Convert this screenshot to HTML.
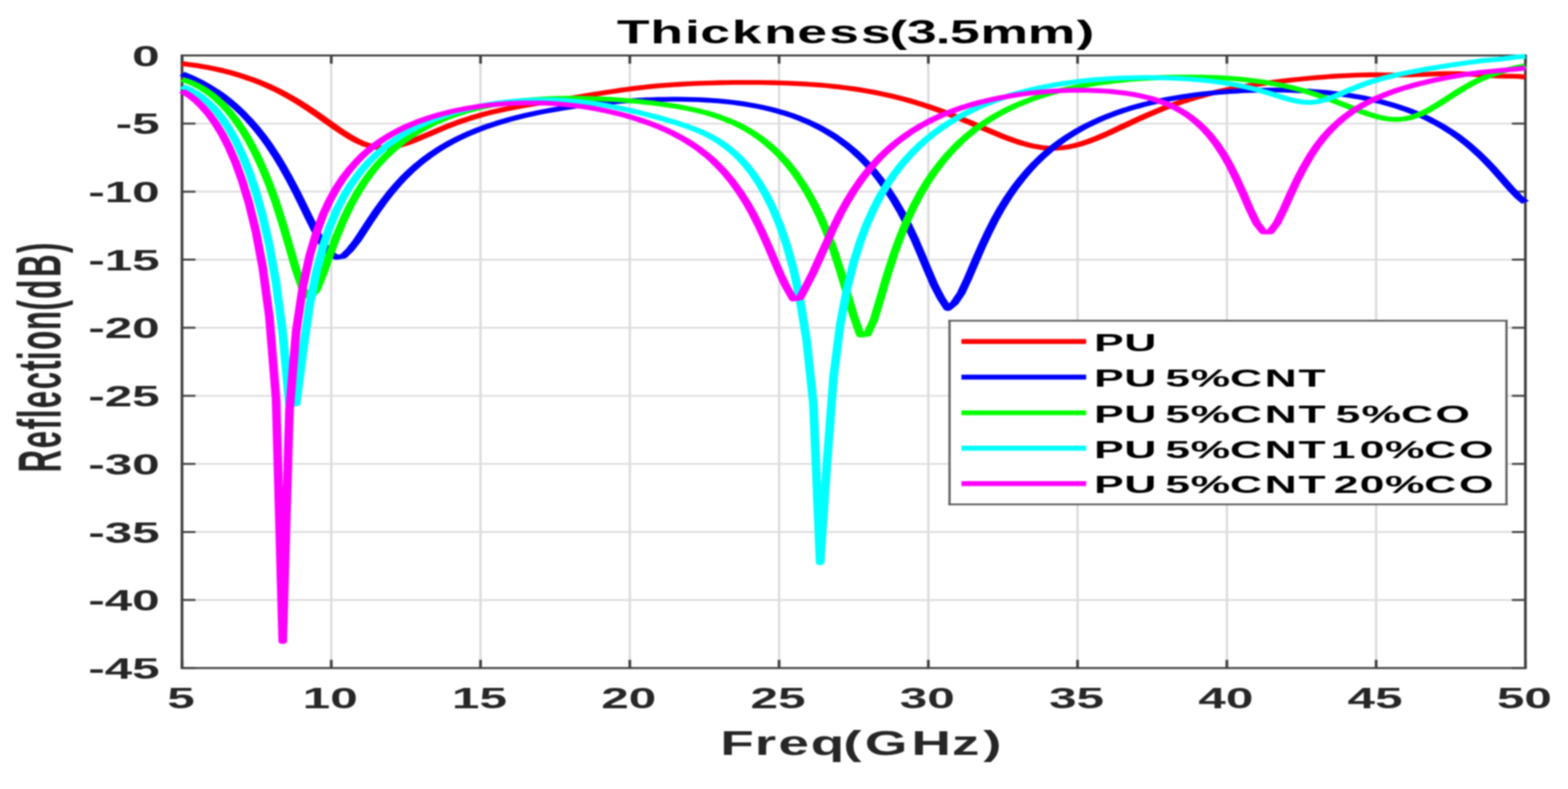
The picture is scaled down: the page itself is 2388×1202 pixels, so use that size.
<!DOCTYPE html>
<html lang="en">
<head>
<meta charset="utf-8">
<title>Thickness(3.5mm) - Reflection vs Freq</title>
<style>
html,body{margin:0;padding:0;background:#fff;overflow:hidden}
svg{display:block}
text{font-family:"Liberation Sans",sans-serif;font-weight:bold}
</style>
</head>
<body>
<svg width="2388" height="1202" viewBox="0 0 2388 1202">
<defs><filter id="soft" x="0" y="0" width="100%" height="100%" filterUnits="userSpaceOnUse" color-interpolation-filters="sRGB"><feGaussianBlur stdDeviation="0.8"/></filter></defs>
<rect width="2388" height="1202" fill="#fff"/>
<g filter="url(#soft)">
<rect width="2388" height="1202" fill="#fff"/>
<g stroke="#dcdcdc" fill="none">
<line x1="504.5" y1="84.5" x2="504.5" y2="1017.8" stroke-width="3.6"/>
<line x1="731.8" y1="84.5" x2="731.8" y2="1017.8" stroke-width="3.6"/>
<line x1="959.2" y1="84.5" x2="959.2" y2="1017.8" stroke-width="3.6"/>
<line x1="1186.5" y1="84.5" x2="1186.5" y2="1017.8" stroke-width="3.6"/>
<line x1="1413.8" y1="84.5" x2="1413.8" y2="1017.8" stroke-width="3.6"/>
<line x1="1641.1" y1="84.5" x2="1641.1" y2="1017.8" stroke-width="3.6"/>
<line x1="1868.5" y1="84.5" x2="1868.5" y2="1017.8" stroke-width="3.6"/>
<line x1="2095.8" y1="84.5" x2="2095.8" y2="1017.8" stroke-width="3.6"/>
<line x1="277.2" y1="914.1" x2="2323.1" y2="914.1" stroke-width="2.6"/>
<line x1="277.2" y1="810.4" x2="2323.1" y2="810.4" stroke-width="2.6"/>
<line x1="277.2" y1="706.7" x2="2323.1" y2="706.7" stroke-width="2.6"/>
<line x1="277.2" y1="603" x2="2323.1" y2="603" stroke-width="2.6"/>
<line x1="277.2" y1="499.3" x2="2323.1" y2="499.3" stroke-width="2.6"/>
<line x1="277.2" y1="395.6" x2="2323.1" y2="395.6" stroke-width="2.6"/>
<line x1="277.2" y1="291.9" x2="2323.1" y2="291.9" stroke-width="2.6"/>
<line x1="277.2" y1="188.2" x2="2323.1" y2="188.2" stroke-width="2.6"/>
</g>
<g stroke="#404040" fill="none">
<path d="M275.1 84.5H2325.2M275.1 1017.8H2325.2" stroke-width="3.0"/>
<path d="M277.2 84.5V1017.8M2323.1 84.5V1017.8" stroke-width="4.2"/>
<path d="M277.2 84.5v12.5M277.2 1017.8v-12.5M504.5 84.5v12.5M504.5 1017.8v-12.5M731.8 84.5v12.5M731.8 1017.8v-12.5M959.2 84.5v12.5M959.2 1017.8v-12.5M1186.5 84.5v12.5M1186.5 1017.8v-12.5M1413.8 84.5v12.5M1413.8 1017.8v-12.5M1641.1 84.5v12.5M1641.1 1017.8v-12.5M1868.5 84.5v12.5M1868.5 1017.8v-12.5M2095.8 84.5v12.5M2095.8 1017.8v-12.5M2323.1 84.5v12.5M2323.1 1017.8v-12.5" stroke-width="4.2"/>
<path d="M277.2 1017.8h20.5M2323.1 1017.8h-20.5M277.2 914.1h20.5M2323.1 914.1h-20.5M277.2 810.4h20.5M2323.1 810.4h-20.5M277.2 706.7h20.5M2323.1 706.7h-20.5M277.2 603h20.5M2323.1 603h-20.5M277.2 499.3h20.5M2323.1 499.3h-20.5M277.2 395.6h20.5M2323.1 395.6h-20.5M277.2 291.9h20.5M2323.1 291.9h-20.5M277.2 188.2h20.5M2323.1 188.2h-20.5M277.2 84.5h20.5M2323.1 84.5h-20.5" stroke-width="3.0"/>
</g>
<g transform="scale(1.8,1)" fill="none" stroke-width="7.3" stroke-linejoin="round" stroke-linecap="butt">
<path stroke="#ff0000" d="M154 96.9 159.7 98.2 165.4 99.6 171 101.3 176.7 103.1 182.4 105.2 188.1 107.5 193.8 110.1 199.5 113 205.1 116.1 210.8 119.6 216.5 123.3 222.2 127.4 227.9 131.9 233.6 136.7 239.2 141.9 244.9 147.5 250.6 153.5 256.3 159.9 262 166.6 267.7 173.6 273.3 180.8 279 188 284.7 195.3 290.4 202.2 296.1 208.7 301.8 214.4 307.4 219 313.1 222.4 318.8 224.5 324.5 225.1 330.2 224.4 335.9 222.5 341.5 219.6 347.2 216.1 352.9 212 358.6 207.7 364.3 203.3 370 198.9 375.6 194.6 381.3 190.5 387 186.7 392.7 183.1 398.4 179.8 404.1 176.7 409.7 173.8 415.4 171.2 421.1 168.8 426.8 166.5 432.5 164.5 438.2 162.5 443.8 160.7 449.5 159 455.2 157.3 460.9 155.7 466.6 154.1 472.3 152.5 477.9 150.9 483.6 149.3 489.3 147.7 495 146 500.7 144.3 506.3 142.7 512 141.1 517.7 139.5 523.4 137.9 529.1 136.5 534.8 135.1 540.4 133.9 546.1 132.7 551.8 131.7 557.5 130.7 563.2 129.9 568.9 129.1 574.5 128.5 580.2 127.9 585.9 127.4 591.6 126.9 597.3 126.6 603 126.3 608.6 126 614.3 125.8 620 125.7 625.7 125.6 631.4 125.6 637.1 125.6 642.7 125.7 648.4 125.8 654.1 126 659.8 126.3 665.5 126.7 671.2 127.1 676.8 127.6 682.5 128.2 688.2 128.9 693.9 129.7 699.6 130.5 705.3 131.6 710.9 132.7 716.6 134 722.3 135.4 728 136.9 733.7 138.7 739.4 140.5 745 142.6 750.7 144.8 756.4 147.2 762.1 149.8 767.8 152.5 773.5 155.5 779.1 158.6 784.8 161.9 790.5 165.4 796.2 169.1 801.9 172.9 807.6 176.9 813.2 181.1 818.9 185.3 824.6 189.6 830.3 194 836 198.4 841.6 202.7 847.3 206.9 853 210.9 858.7 214.6 864.4 218 870.1 220.8 875.7 223.1 881.4 224.8 887.1 225.7 892.8 225.8 898.5 225.2 904.2 223.7 909.8 221.6 915.5 218.7 921.2 215.3 926.9 211.3 932.6 207 938.3 202.5 943.9 197.7 949.6 192.9 955.3 188.1 961 183.3 966.7 178.6 972.4 174.1 978 169.8 983.7 165.6 989.4 161.7 995.1 158 1000.8 154.5 1006.5 151.3 1012.1 148.2 1017.8 145.4 1023.5 142.7 1029.2 140.3 1034.9 138 1040.6 135.8 1046.2 133.9 1051.9 132 1057.6 130.3 1063.3 128.7 1069 127.2 1074.7 125.8 1080.3 124.5 1086 123.3 1091.7 122.1 1097.4 121 1103.1 120 1108.8 119 1114.4 118.1 1120.1 117.3 1125.8 116.5 1131.5 115.9 1137.2 115.3 1142.9 114.8 1148.5 114.4 1154.2 114.2 1159.9 114 1165.6 114 1171.3 114.1 1176.9 114.2 1182.6 114.3 1188.3 114.2 1194 114.1 1199.7 113.7 1205.4 113.3 1211 112.9 1216.7 112.5 1222.4 112.2 1228.1 112.1 1233.8 112.2 1239.5 112.6 1245.1 113.2 1250.8 113.9 1256.5 114.7 1262.2 115.4 1267.9 115.9 1273.6 116.1 1279.2 116.1 1284.9 116.3 1290.6 117.4"/>
<path stroke="#0000ff" d="M154 112.4 159.7 116.6 165.4 121.3 171 126.5 176.7 132.3 182.4 138.8 188.1 145.9 193.8 153.9 199.5 162.7 205.1 172.4 210.8 183.1 216.5 194.8 222.2 207.7 227.9 221.9 233.6 237.4 239.2 254.2 244.9 272.5 250.6 292.1 256.3 312.7 262 333.8 267.7 354.3 273.3 372.4 279 385.5 284.7 392 290.4 390.5 296.1 380.5 301.8 367.4 307.4 352.2 313.1 336.6 318.8 321.4 324.5 307.1 330.2 293.9 335.9 281.9 341.5 270.9 347.2 260.9 352.9 251.8 358.6 243.5 364.3 235.9 370 229 375.6 222.7 381.3 216.9 387 211.6 392.7 206.7 398.4 202.2 404.1 198 409.7 194.2 415.4 190.6 421.1 187.3 426.8 184.2 432.5 181.3 438.2 178.6 443.8 176.2 449.5 173.8 455.2 171.6 460.9 169.6 466.6 167.7 472.3 165.9 477.9 164.3 483.6 162.7 489.3 161.3 495 160 500.7 158.7 506.3 157.6 512 156.5 517.7 155.6 523.4 154.7 529.1 153.9 534.8 153.3 540.4 152.7 546.1 152.2 551.8 151.8 557.5 151.5 563.2 151.3 568.9 151.2 574.5 151.2 580.2 151.3 585.9 151.6 591.6 151.9 597.3 152.5 603 153.1 608.6 153.9 614.3 154.9 620 156 625.7 157.4 631.4 158.9 637.1 160.7 642.7 162.6 648.4 164.9 654.1 167.4 659.8 170.2 665.5 173.3 671.2 176.7 676.8 180.6 682.5 184.8 688.2 189.5 693.9 194.7 699.6 200.5 705.3 206.8 710.9 213.8 716.6 221.5 722.3 230 728 239.5 733.7 249.9 739.4 261.4 745 274.3 750.7 288.5 756.4 304.3 762.1 321.8 767.8 341.3 773.5 362.7 779.1 386.1 784.8 410.6 790.5 434.5 796.2 454.2 801.9 470 807.6 461.4 813.2 446.5 818.9 424.6 824.6 400.6 830.3 377 836 355 841.6 334.9 847.3 316.7 853 300.3 858.7 285.5 864.4 272.2 870.1 260.1 875.7 249.2 881.4 239.2 887.1 230.2 892.8 221.9 898.5 214.3 904.2 207.4 909.8 201.1 915.5 195.2 921.2 189.9 926.9 185 932.6 180.4 938.3 176.2 943.9 172.4 949.6 168.8 955.3 165.6 961 162.6 966.7 159.8 972.4 157.2 978 154.9 983.7 152.7 989.4 150.7 995.1 148.9 1000.8 147.2 1006.5 145.7 1012.1 144.3 1017.8 143.1 1023.5 142 1029.2 141 1034.9 140.2 1040.6 139.4 1046.2 138.8 1051.9 138.2 1057.6 137.8 1063.3 137.5 1069 137.3 1074.7 137.2 1080.3 137.2 1086 137.4 1091.7 137.6 1097.4 138 1103.1 138.4 1108.8 139 1114.4 139.8 1120.1 140.7 1125.8 141.7 1131.5 142.9 1137.2 144.2 1142.9 145.7 1148.5 147.4 1154.2 149.3 1159.9 151.4 1165.6 153.8 1171.3 156.4 1176.9 159.2 1182.6 162.4 1188.3 165.8 1194 169.6 1199.7 173.8 1205.4 178.3 1211 183.3 1216.7 188.8 1222.4 194.8 1228.1 201.3 1233.8 208.4 1239.5 216.3 1245.1 224.8 1250.8 234 1256.5 244 1262.2 254.7 1267.9 266.1 1273.6 277.8 1279.2 289.3 1284.9 300 1290.6 308.4"/>
<path stroke="#00ff00" d="M154 121.1 159.7 124.4 165.4 128.8 171 134.3 176.7 141.1 182.4 149.2 188.1 158.8 193.8 170 199.5 182.9 205.1 197.7 210.8 214.7 216.5 234 222.2 256 227.9 281 233.6 309.3 239.2 341.1 244.9 376 250.6 411.6 256.3 440.9 262 452.7 267.7 441.9 273.3 416.8 279 387.9 284.7 360.3 290.4 335.8 296.1 314.3 301.8 295.7 307.4 279.4 313.1 265.1 318.8 252.5 324.5 241.4 330.2 231.5 335.9 222.6 341.5 214.7 347.2 207.5 352.9 201.1 358.6 195.3 364.3 190 370 185.3 375.6 181 381.3 177.1 387 173.5 392.7 170.3 398.4 167.4 404.1 164.8 409.7 162.5 415.4 160.4 421.1 158.5 426.8 156.8 432.5 155.4 438.2 154.1 443.8 153 449.5 152.1 455.2 151.3 460.9 150.7 466.6 150.2 472.3 149.9 477.9 149.7 483.6 149.6 489.3 149.7 495 149.8 500.7 150.1 506.3 150.5 512 151 517.7 151.5 523.4 152.2 529.1 152.9 534.8 153.8 540.4 154.7 546.1 155.8 551.8 156.9 557.5 158.2 563.2 159.6 568.9 161.1 574.5 162.8 580.2 164.7 585.9 166.8 591.6 169.2 597.3 171.8 603 174.8 608.6 178.2 614.3 182 620 186.3 625.7 191.1 631.4 196.6 637.1 202.8 642.7 209.7 648.4 217.6 654.1 226.4 659.8 236.3 665.5 247.5 671.2 260.2 676.8 274.4 682.5 290.5 688.2 308.8 693.9 329.6 699.6 353.5 705.3 380.7 710.9 411.9 716.6 446.3 722.3 481.1 728 510.5 733.7 509.5 739.4 487.7 745 453.8 750.7 418.9 756.4 387.1 762.1 359 767.8 334.4 773.5 312.8 779.1 293.8 784.8 276.9 790.5 261.8 796.2 248.3 801.9 236.1 807.6 225.1 813.2 215.1 818.9 206.1 824.6 197.8 830.3 190.3 836 183.5 841.6 177.2 847.3 171.5 853 166.2 858.7 161.4 864.4 157 870.1 153 875.7 149.3 881.4 145.9 887.1 142.8 892.8 139.9 898.5 137.3 904.2 134.9 909.8 132.8 915.5 130.8 921.2 129 926.9 127.3 932.6 125.8 938.3 124.5 943.9 123.3 949.6 122.2 955.3 121.2 961 120.4 966.7 119.6 972.4 119 978 118.5 983.7 118 989.4 117.7 995.1 117.4 1000.8 117.3 1006.5 117.3 1012.1 117.3 1017.8 117.5 1023.5 117.8 1029.2 118.2 1034.9 118.7 1040.6 119.4 1046.2 120.2 1051.9 121.2 1057.6 122.3 1063.3 123.6 1069 125 1074.7 126.7 1080.3 128.5 1086 130.6 1091.7 132.9 1097.4 135.5 1103.1 138.2 1108.8 141.3 1114.4 144.6 1120.1 148.1 1125.8 151.8 1131.5 155.7 1137.2 159.7 1142.9 163.8 1148.5 167.8 1154.2 171.6 1159.9 175.1 1165.6 178.1 1171.3 180.4 1176.9 181.7 1182.6 182 1188.3 181 1194 178.8 1199.7 175.4 1205.4 170.8 1211 165.4 1216.7 159.2 1222.4 152.7 1228.1 146 1233.8 139.5 1239.5 133.2 1245.1 127.5 1250.8 122.3 1256.5 117.8 1262.2 113.8 1267.9 110.3 1273.6 107.2 1279.2 104.5 1284.9 102.1 1290.6 100.2"/>
<path stroke="#00ffff" d="M154 131.7 159.7 135.9 165.4 141.4 171 148.4 176.7 157.1 182.4 167.8 188.1 180.8 193.8 196.2 199.5 214.5 205.1 236.1 210.8 261.6 216.5 292 222.2 328.6 227.9 373.5 233.6 430.9 239.2 507.3 244.9 617 250.6 615.3 256.3 535.9 262 464.7 267.7 413.6 273.3 375.2 279 345.1 284.7 320.8 290.4 300.5 296.1 283.4 301.8 268.7 307.4 255.9 313.1 244.7 318.8 234.7 324.5 225.9 330.2 218 335.9 210.8 341.5 204.4 347.2 198.6 352.9 193.3 358.6 188.4 364.3 184 370 180 375.6 176.3 381.3 173 387 169.9 392.7 167.2 398.4 164.7 404.1 162.4 409.7 160.4 415.4 158.6 421.1 157.1 426.8 155.7 432.5 154.6 438.2 153.7 443.8 153 449.5 152.4 455.2 152.1 460.9 152.1 466.6 152.2 472.3 152.5 477.9 153 483.6 153.8 489.3 154.7 495 155.9 500.7 157.2 506.3 158.8 512 160.5 517.7 162.4 523.4 164.4 529.1 166.7 534.8 169 540.4 171.4 546.1 174 551.8 176.6 557.5 179.4 563.2 182.2 568.9 185.2 574.5 188.4 580.2 191.8 585.9 195.5 591.6 199.6 597.3 204.3 603 209.6 608.6 215.8 614.3 222.9 620 231.1 625.7 240.7 631.4 251.9 637.1 264.9 642.7 280 648.4 297.7 654.1 318.4 659.8 343 665.5 372.6 671.2 408.9 676.8 455.4 682.5 518.6 688.2 615.1 693.9 857.4 699.6 707.8 705.3 573 710.9 494.5 716.6 440.4 722.3 399.5 728 367 733.7 340.1 739.4 317.4 745 297.8 750.7 280.8 756.4 265.7 762.1 252.4 767.8 240.4 773.5 229.5 779.1 219.7 784.8 210.8 790.5 202.7 796.2 195.2 801.9 188.4 807.6 182.1 813.2 176.3 818.9 171 824.6 166 830.3 161.4 836 157.2 841.6 153.3 847.3 149.7 853 146.3 858.7 143.3 864.4 140.4 870.1 137.8 875.7 135.3 881.4 133.1 887.1 131.1 892.8 129.2 898.5 127.6 904.2 126 909.8 124.7 915.5 123.4 921.2 122.4 926.9 121.4 932.6 120.6 938.3 119.9 943.9 119.4 949.6 118.9 955.3 118.6 961 118.3 966.7 118.2 972.4 118.2 978 118.3 983.7 118.5 989.4 118.8 995.1 119.3 1000.8 119.8 1006.5 120.5 1012.1 121.3 1017.8 122.2 1023.5 123.3 1029.2 124.6 1034.9 126 1040.6 127.6 1046.2 129.5 1051.9 131.6 1057.6 133.9 1063.3 136.5 1069 139.4 1074.7 142.5 1080.3 145.7 1086 148.9 1091.7 151.8 1097.4 154.2 1103.1 155.7 1108.8 156.1 1114.4 155 1120.1 152.6 1125.8 149.2 1131.5 145.1 1137.2 140.6 1142.9 136.2 1148.5 132.1 1154.2 128.2 1159.9 124.7 1165.6 121.6 1171.3 118.7 1176.9 116.2 1182.6 113.8 1188.3 111.6 1194 109.6 1199.7 107.7 1205.4 105.8 1211 104.1 1216.7 102.3 1222.4 100.7 1228.1 99 1233.8 97.5 1239.5 96 1245.1 94.5 1250.8 93.2 1256.5 92.1 1262.2 91.1 1267.9 90.4 1273.6 89.1 1279.2 87.7 1284.9 86.6 1290.6 85.8"/>
<path stroke="#ff00ff" d="M154 138.5 159.7 144.7 165.4 152.5 171 162.1 176.7 173.9 182.4 187.9 188.1 204.7 193.8 224.6 199.5 248.2 205.1 276.3 210.8 310.4 216.5 352.4 222.2 406.6 227.9 482.2 233.6 607.8 239.2 977.3 244.9 625 250.6 504.4 256.3 436.1 262 389.4 267.7 354.6 273.3 327.2 279 305 284.7 286.6 290.4 271 296.1 257.6 301.8 246 307.4 235.8 313.1 226.9 318.8 219 324.5 211.9 330.2 205.5 335.9 199.8 341.5 194.7 347.2 190.1 352.9 185.9 358.6 182.1 364.3 178.6 370 175.5 375.6 172.7 381.3 170.1 387 167.9 392.7 165.8 398.4 164 404.1 162.4 409.7 161 415.4 159.9 421.1 158.9 426.8 158.1 432.5 157.5 438.2 157.1 443.8 156.8 449.5 156.8 455.2 156.9 460.9 157.2 466.6 157.7 472.3 158.4 477.9 159.3 483.6 160.3 489.3 161.6 495 163 500.7 164.7 506.3 166.5 512 168.6 517.7 170.8 523.4 173.3 529.1 176 534.8 178.9 540.4 182.1 546.1 185.6 551.8 189.3 557.5 193.4 563.2 197.8 568.9 202.7 574.5 208 580.2 213.8 585.9 220.2 591.6 227.3 597.3 235.3 603 244.1 608.6 254.1 614.3 265.2 620 277.8 625.7 292 631.4 307.9 637.1 325.9 642.7 346 648.4 368.3 654.1 392.2 659.8 416.4 665.5 437.7 671.2 455.5 676.8 454 682.5 434.5 688.2 414.5 693.9 391.5 699.6 369.1 705.3 346.5 710.9 325.8 716.6 307.2 722.3 290.5 728 275.5 733.7 262 739.4 249.9 745 238.9 750.7 229 756.4 220 762.1 211.9 767.8 204.5 773.5 197.7 779.1 191.6 784.8 186 790.5 180.8 796.2 176.2 801.9 171.9 807.6 167.9 813.2 164.3 818.9 161.1 824.6 158.1 830.3 155.3 836 152.8 841.6 150.6 847.3 148.5 853 146.7 858.7 145 864.4 143.5 870.1 142.2 875.7 141.1 881.4 140.1 887.1 139.3 892.8 138.6 898.5 138.1 904.2 137.7 909.8 137.5 915.5 137.5 921.2 137.7 926.9 138 932.6 138.5 938.3 139.2 943.9 140.2 949.6 141.4 955.3 142.8 961 144.6 966.7 146.7 972.4 149.3 978 152.3 983.7 155.8 989.4 160 995.1 164.9 1000.8 170.7 1006.5 177.5 1012.1 185.5 1017.8 194.9 1023.5 206 1029.2 219.1 1034.9 234.4 1040.6 252.2 1046.2 272.7 1051.9 295.4 1057.6 319.1 1063.3 340.3 1069 353.4 1074.7 353.3 1080.3 340.2 1086 319.6 1091.7 296.7 1097.4 274.6 1103.1 254.8 1108.8 237.3 1114.4 222.1 1120.1 209 1125.8 197.6 1131.5 187.7 1137.2 179 1142.9 171.5 1148.5 164.8 1154.2 158.9 1159.9 153.6 1165.6 148.9 1171.3 144.6 1176.9 140.7 1182.6 137.2 1188.3 133.9 1194 130.9 1199.7 128.1 1205.4 125.6 1211 123.2 1216.7 121 1222.4 118.9 1228.1 117 1233.8 115.2 1239.5 113.6 1245.1 112.1 1250.8 110.7 1256.5 109.6 1262.2 108.5 1267.9 107.6 1273.6 106.7 1279.2 105.9 1284.9 104.9 1290.6 103.4"/>
</g>
<rect x="1446.1" y="488.6" width="848.2" height="279.8" fill="#fff" stroke="none"/>
<path d="M1444.1 488.6H2296.3M1444.1 768.4H2296.3" stroke="#5e5e5e" stroke-width="2.8" fill="none"/>
<path d="M1446.1 488.6V768.4M2294.3 488.6V768.4" stroke="#5e5e5e" stroke-width="3.4" fill="none"/>
<line x1="1464.2" x2="1654.2" y1="520.2" y2="520.2" stroke="#ff0000" stroke-width="7.4"/>
<line x1="1464.2" x2="1654.2" y1="574.5" y2="574.5" stroke="#0000ff" stroke-width="7.4"/>
<line x1="1464.2" x2="1654.2" y1="628.9" y2="628.9" stroke="#00ff00" stroke-width="7.4"/>
<line x1="1464.2" x2="1654.2" y1="682.8" y2="682.8" stroke="#00ffff" stroke-width="7.4"/>
<line x1="1464.2" x2="1654.2" y1="736.7" y2="736.7" stroke="#ff00ff" stroke-width="7.4"/>
<text transform="translate(0 66.2) scale(1.63 1)" x="576.4 607.7 640 654.3 683.7 714 744.9 774.7 804.4 831 847.4 874.3 887.6 916.1 960.3 1005.9" font-size="50.0" fill="#000">Thickness(3.5mm)</text>
<text transform="translate(0 1150.2) scale(1.6058 1)" x="683.1 715.8 738.3 768.9 799.7 820.1 864.3 902.9 932.6" font-size="52.0" fill="#262626">Freq(GHz)</text>
<text transform="translate(91.6 716.7) rotate(-90) scale(1 1.95)" x="-3.1 33.6 62.5 79.8 94.8 123.6 151.8 168.1 183.7 214 243.8 261.5 294.7 331.3" font-size="47.5" fill="#262626">Reflection(dB)</text>
<text transform="translate(275.6 1079) scale(1.71 1)" font-size="44.0" text-anchor="middle" fill="#262626">5</text>
<text transform="translate(502.9 1079) scale(1.71 1)" font-size="44.0" text-anchor="middle" fill="#262626">10</text>
<text transform="translate(730.2 1079) scale(1.71 1)" font-size="44.0" text-anchor="middle" fill="#262626">15</text>
<text transform="translate(957.6 1079) scale(1.71 1)" font-size="44.0" text-anchor="middle" fill="#262626">20</text>
<text transform="translate(1184.9 1079) scale(1.71 1)" font-size="44.0" text-anchor="middle" fill="#262626">25</text>
<text transform="translate(1412.2 1079) scale(1.71 1)" font-size="44.0" text-anchor="middle" fill="#262626">30</text>
<text transform="translate(1639.5 1079) scale(1.71 1)" font-size="44.0" text-anchor="middle" fill="#262626">35</text>
<text transform="translate(1866.9 1079) scale(1.71 1)" font-size="44.0" text-anchor="middle" fill="#262626">40</text>
<text transform="translate(2094.2 1079) scale(1.71 1)" font-size="44.0" text-anchor="middle" fill="#262626">45</text>
<text transform="translate(2321.5 1079) scale(1.71 1)" font-size="44.0" text-anchor="middle" fill="#262626">50</text>
<text transform="translate(243.2 1033.9) scale(1.73 1)" font-size="43.5" text-anchor="end" fill="#262626">-45</text>
<text transform="translate(243.2 930.2) scale(1.73 1)" font-size="43.5" text-anchor="end" fill="#262626">-40</text>
<text transform="translate(243.2 826.5) scale(1.73 1)" font-size="43.5" text-anchor="end" fill="#262626">-35</text>
<text transform="translate(243.2 722.8) scale(1.73 1)" font-size="43.5" text-anchor="end" fill="#262626">-30</text>
<text transform="translate(243.2 619.1) scale(1.73 1)" font-size="43.5" text-anchor="end" fill="#262626">-25</text>
<text transform="translate(243.2 515.4) scale(1.73 1)" font-size="43.5" text-anchor="end" fill="#262626">-20</text>
<text transform="translate(243.2 411.7) scale(1.73 1)" font-size="43.5" text-anchor="end" fill="#262626">-15</text>
<text transform="translate(243.2 308) scale(1.73 1)" font-size="43.5" text-anchor="end" fill="#262626">-10</text>
<text transform="translate(243.2 204.3) scale(1.73 1)" font-size="43.5" text-anchor="end" fill="#262626">-5</text>
<text transform="translate(243.2 100.6) scale(1.73 1)" font-size="43.5" text-anchor="end" fill="#262626">0</text>
<text transform="translate(0 534.9) scale(1.791 1)" x="930.3 956" font-size="37.8" fill="#000">PU</text>
<text transform="translate(0 589.2) scale(1.791 1)" x="930.3 956 978.6 990.9 1012.5 1045.9 1075.4 1104.2" font-size="37.8" fill="#000">PU 5%CNT</text>
<text transform="translate(0 643.6) scale(1.791 1)" x="930.3 956 978.6 990.9 1012.5 1045.9 1075.4 1104.2 1126.9 1135.7 1157.7 1191.4 1220.5" font-size="37.8" fill="#000">PU 5%CNT 5%CO</text>
<text transform="translate(0 697.5) scale(1.791 1)" x="930.3 956 978.6 990.9 1012.5 1045.9 1075.4 1104.2 1126.9 1131.7 1156.2 1177.7 1211.1 1240.6" font-size="37.8" fill="#000">PU 5%CNT 10%CO</text>
<text transform="translate(0 751.4) scale(1.791 1)" x="930.3 956 978.6 990.9 1012.5 1045.9 1075.4 1104.2 1126.9 1134.2 1156.2 1177.7 1211.1 1240.6" font-size="37.8" fill="#000">PU 5%CNT 20%CO</text>
</g>
</svg>
</body>
</html>
